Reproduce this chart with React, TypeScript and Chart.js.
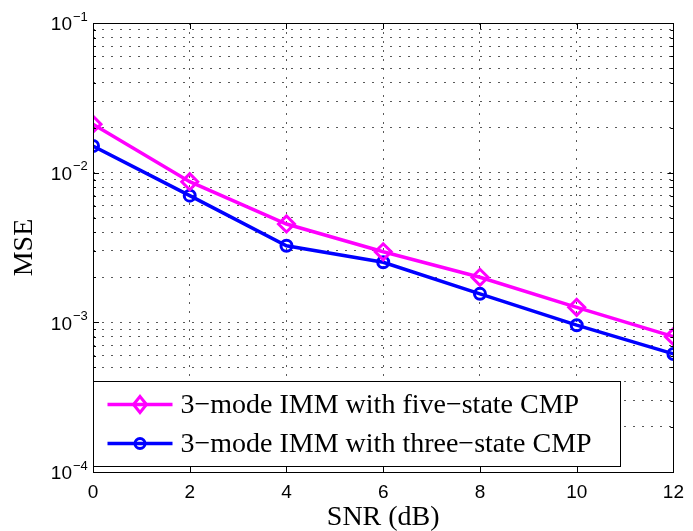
import React, { useEffect, useRef } from 'react';
import { Chart, registerables } from 'chart.js';

Chart.register(...registerables);

const snr = [0, 2, 4, 6, 8, 10, 12];
const mseFiveState = [0.0211, 0.0087, 0.00454, 0.00296, 0.002, 0.00126, 0.000802];
const mseThreeState = [0.01507, 0.00702, 0.00325, 0.00252, 0.00155, 0.000957, 0.000615];
const xTickValues = [0, 2, 4, 6, 8, 10, 12];
const yDecadeExponents = [-4, -3, -2, -1];
const seriesLabels = ['3\u2212mode IMM with five\u2212state CMP', '3\u2212mode IMM with three\u2212state CMP'];
const seriesColors = ['#ff00ff', '#0000ff'];
const seriesMarkers = ['diamond', 'circle'];

const SANS = '"Liberation Sans", Arial, Helvetica, sans-serif';
const SERIF = '"Liberation Serif", "Times New Roman", Times, serif';

function drawMarker(ctx: CanvasRenderingContext2D, kind: string, x: number, y: number, color: string) {
  ctx.save();
  ctx.strokeStyle = color;
  ctx.lineWidth = 3;
  ctx.beginPath();
  if (kind === 'diamond') {
    ctx.moveTo(x, y - 8);
    ctx.lineTo(x + 6.5, y);
    ctx.lineTo(x, y + 8);
    ctx.lineTo(x - 6.5, y);
    ctx.closePath();
  } else {
    ctx.arc(x, y, 5, 0, Math.PI * 2);
  }
  ctx.stroke();
  ctx.restore();
}

const framePlugin = {
  id: 'matlabFrame',
  afterDraw(chart: any) {
    const { ctx, chartArea: a, scales } = chart;
    const xs = scales.x;
    const ys = scales.y;
    ctx.save();
    // inward tick marks
    ctx.strokeStyle = '#000';
    ctx.lineWidth = 1;
    ctx.setLineDash([]);
    ctx.beginPath();
    xs.ticks.forEach((t: any) => {
      const px = Math.round(xs.getPixelForValue(t.value)) + 0.5;
      ctx.moveTo(px, a.bottom);
      ctx.lineTo(px, a.bottom - 6);
      ctx.moveTo(px, a.top);
      ctx.lineTo(px, a.top + 6);
    });
    ys.ticks.forEach((t: any) => {
      const py = Math.round(ys.getPixelForValue(t.value)) + 0.5;
      const len = t.major ? 6 : 3;
      ctx.moveTo(a.left, py);
      ctx.lineTo(a.left + len, py);
      ctx.moveTo(a.right, py);
      ctx.lineTo(a.right - len, py);
    });
    ctx.stroke();
    // frame
    ctx.strokeRect(Math.round(a.left) + 0.5, Math.round(a.top) + 0.5, Math.round(a.right - a.left), Math.round(a.bottom - a.top));

    // y tick labels 10^n
    ctx.fillStyle = '#000';
    yDecadeExponents.forEach((e) => {
      const py = ys.getPixelForValue(Math.pow(10, e));
      ctx.font = '19px ' + SANS;
      ctx.textAlign = 'right';
      ctx.textBaseline = 'middle';
      ctx.fillText('10', a.left - 21, py + 2);
      ctx.font = '13px ' + SANS;
      ctx.textAlign = 'left';
      ctx.fillText('\u2212' + Math.abs(e), a.left - 20, py - 6);
    });

    // legend inside bottom-left
    const lx = Math.round(a.left) + 0.5;
    const lBottom = Math.round(a.bottom) - 6 + 0.5;
    const lw = 527;
    const lh = 85;
    const ly = lBottom - lh;
    ctx.fillStyle = '#fff';
    ctx.fillRect(lx, ly, lw, lh);
    ctx.strokeStyle = '#000';
    ctx.lineWidth = 1;
    ctx.strokeRect(lx, ly, lw, lh);
    const rows = [ly + 23, ly + 62];
    seriesLabels.forEach((label, i) => {
      const ry = rows[i];
      ctx.strokeStyle = seriesColors[i];
      ctx.lineWidth = 3.5;
      ctx.beginPath();
      ctx.moveTo(lx + 14, ry);
      ctx.lineTo(lx + 79, ry);
      ctx.stroke();
      drawMarker(ctx, seriesMarkers[i], lx + 46.5, ry, seriesColors[i]);
      ctx.fillStyle = '#000';
      ctx.font = '28px ' + SERIF;
      ctx.textAlign = 'left';
      ctx.textBaseline = 'middle';
      ctx.fillText(label, lx + 87, ry + 1);
    });
    ctx.restore();
  },
};

export default function App() {
  const canvasRef = useRef<HTMLCanvasElement | null>(null);

  useEffect(() => {
    document.body.style.margin = '0';
    const canvas = canvasRef.current;
    if (!canvas) return;
    const chart = new Chart(canvas, {
      type: 'line',
      data: {
        datasets: [
          {
            label: seriesLabels[0],
            data: snr.map((x, i) => ({ x, y: mseFiveState[i] })),
            borderColor: seriesColors[0],
            backgroundColor: 'transparent',
            borderWidth: 3.5,
            pointStyle: 'rectRot',
            pointRadius: 8,
            pointBorderWidth: 3,
            pointBorderColor: seriesColors[0],
            pointBackgroundColor: 'rgba(0,0,0,0)',
            tension: 0,
          },
          {
            label: seriesLabels[1],
            data: snr.map((x, i) => ({ x, y: mseThreeState[i] })),
            borderColor: seriesColors[1],
            backgroundColor: 'transparent',
            borderWidth: 3.5,
            pointStyle: 'circle',
            pointRadius: 5.5,
            pointBorderWidth: 3,
            pointBorderColor: seriesColors[1],
            pointBackgroundColor: 'rgba(0,0,0,0)',
            tension: 0,
          },
        ],
      },
      options: {
        animation: false,
        responsive: false,
        devicePixelRatio: 1,
        layout: { padding: { top: 23, right: 13, left: 0, bottom: 0 } },
        plugins: {
          legend: { display: false },
          tooltip: { enabled: false },
        },
        scales: {
          x: {
            type: 'linear',
            min: 0,
            max: 12,
            afterBuildTicks: (scale: any) => {
              scale.ticks = xTickValues.map((v) => ({ value: v }));
            },
            afterFit: (scale: any) => {
              scale.height = 59;
            },
            ticks: {
              font: { family: SANS, size: 19 },
              color: '#000',
              padding: 9,
              maxRotation: 0,
              callback: (v: any) => String(v),
            },
            grid: {
              drawTicks: false,
              color: 'rgba(0,0,0,0.65)',
              lineWidth: 1,
            },
            border: { display: false, dash: [2, 7] },
            title: {
              display: true,
              text: 'SNR (dB)',
              font: { family: SERIF, size: 28, lineHeight: 1 },
              color: '#000',
              padding: { top: 0, bottom: -1 },
            },
          },
          y: {
            type: 'logarithmic',
            min: 1e-4,
            max: 1e-1,
            afterBuildTicks: (scale: any) => {
              const ticks: any[] = [];
              yDecadeExponents.forEach((e) => {
                for (let m = 1; m <= 9; m++) {
                  const v = m * Math.pow(10, e);
                  if (v <= 0.1 * 1.0001) ticks.push({ value: v, major: m === 1 });
                }
              });
              scale.ticks = ticks;
            },
            afterFit: (scale: any) => {
              scale.width = 93;
            },
            ticks: { display: false },
            grid: {
              drawTicks: false,
              color: 'rgba(0,0,0,0.65)',
              lineWidth: 1,
            },
            border: { display: false, dash: [2, 7] },
            title: {
              display: true,
              text: 'MSE',
              font: { family: SERIF, size: 28, lineHeight: 1 },
              color: '#000',
              padding: { top: 11, bottom: 0 },
            },
          },
        },
      },
      plugins: [framePlugin],
    });
    return () => chart.destroy();
  }, []);

  return (
    <div style={{ width: 693, height: 531, background: '#fff' }}>
      <canvas ref={canvasRef} width={693} height={531} style={{ display: 'block' }} />
    </div>
  );
}
